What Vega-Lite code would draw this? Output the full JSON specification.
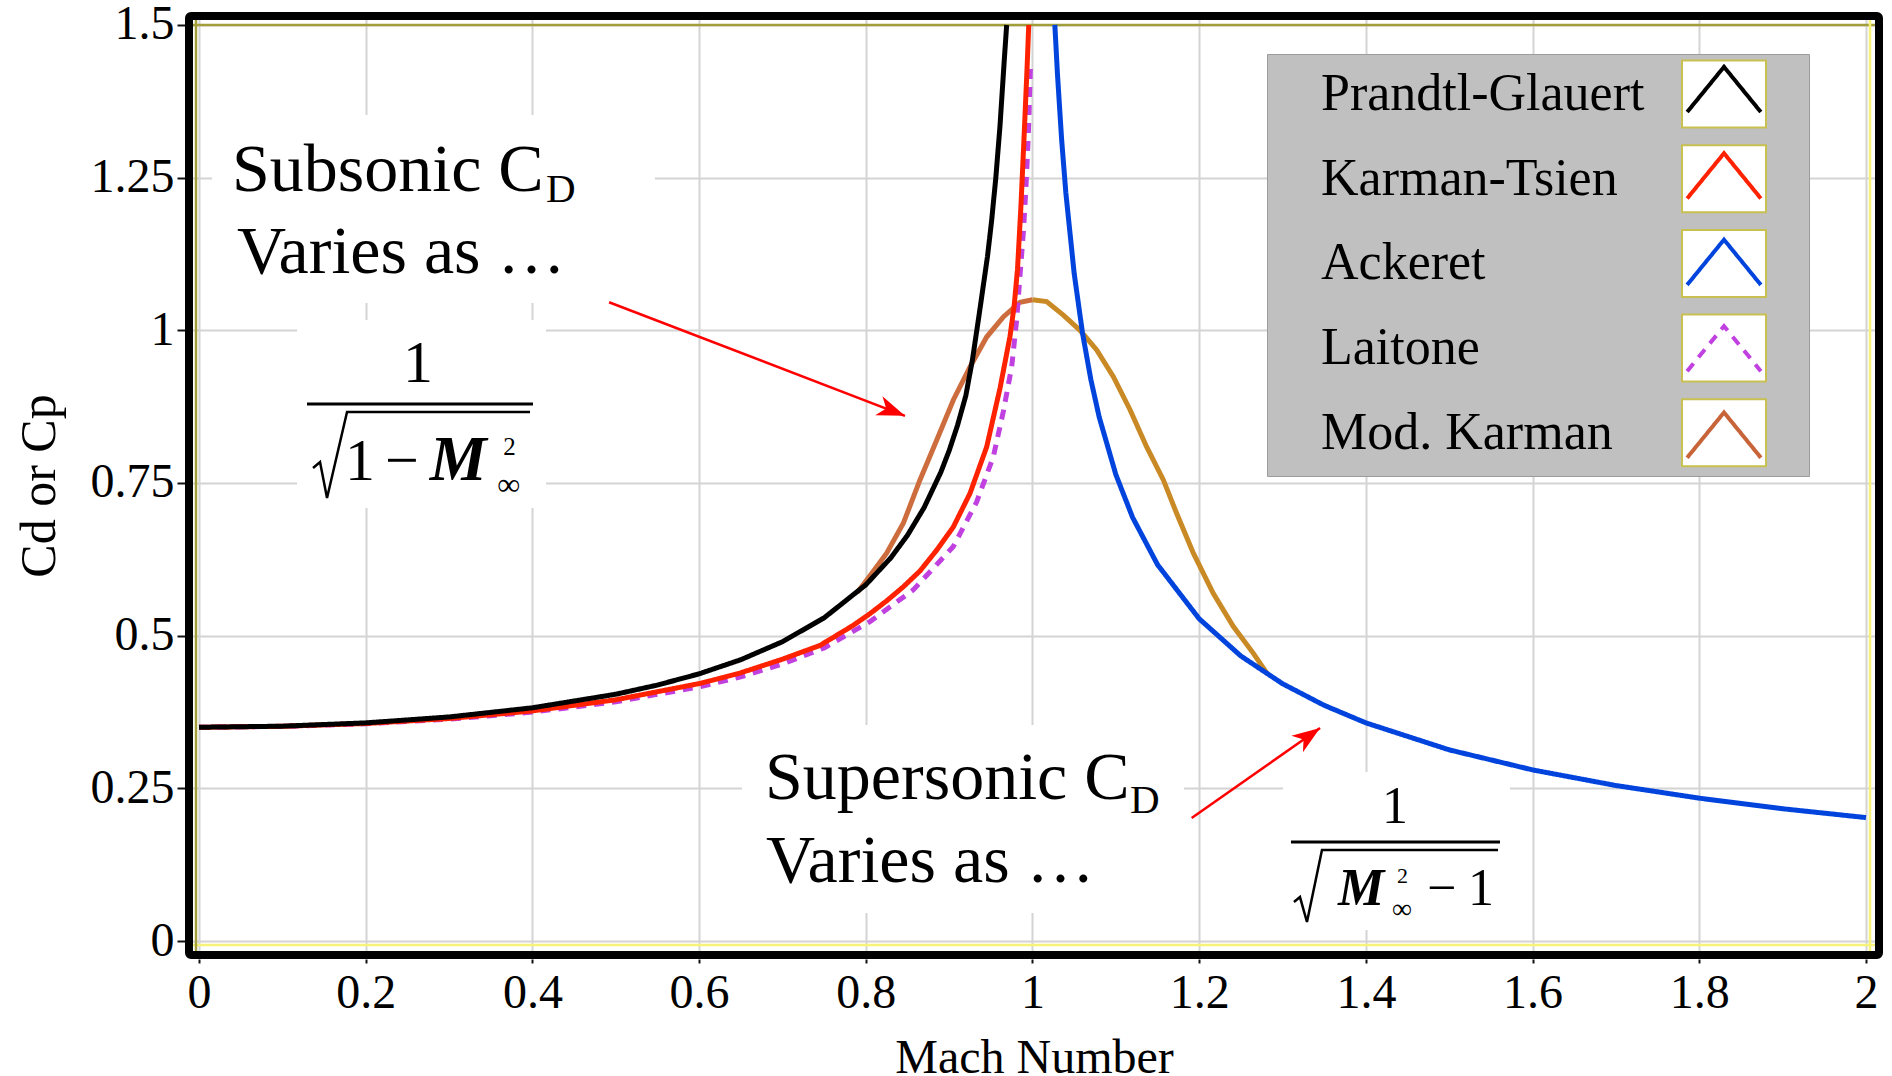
{
  "$schema": "https://vega.github.io/schema/vega-lite/v6.json",
  "width": 1690,
  "height": 939,
  "autosize": {"type": "none"},
  "padding": {"left": 189, "top": 16, "right": 13, "bottom": 121},
  "background": "white",
  "config": {
    "view": {"stroke": null},
    "font": "Liberation Serif",
    "text": {"font": "Liberation Serif"}
  },
  "datasets": {
    "curves": [
      {"s": "Laitone", "M": 0, "v": 0.35}, {"s": "Laitone", "M": 0.1, "v": 0.3514}, {"s": "Laitone", "M": 0.2, "v": 0.3556}, {"s": "Laitone", "M": 0.3, "v": 0.3632}, {"s": "Laitone", "M": 0.4, "v": 0.3748}, {"s": "Laitone", "M": 0.5, "v": 0.3918}, {"s": "Laitone", "M": 0.6, "v": 0.416}, {"s": "Laitone", "M": 0.65, "v": 0.4326}, {"s": "Laitone", "M": 0.7, "v": 0.4535}, {"s": "Laitone", "M": 0.75, "v": 0.48}, {"s": "Laitone", "M": 0.805, "v": 0.523}, {"s": "Laitone", "M": 0.857, "v": 0.575}, {"s": "Laitone", "M": 0.905, "v": 0.646}, {"s": "Laitone", "M": 0.933, "v": 0.719}, {"s": "Laitone", "M": 0.953, "v": 0.793}, {"s": "Laitone", "M": 0.965, "v": 0.867}, {"s": "Laitone", "M": 0.975, "v": 0.94}, {"s": "Laitone", "M": 0.981, "v": 1.017}, {"s": "Laitone", "M": 0.985, "v": 1.09}, {"s": "Laitone", "M": 0.989, "v": 1.16}, {"s": "Laitone", "M": 0.992, "v": 1.23}, {"s": "Laitone", "M": 0.995, "v": 1.32}, {"s": "Laitone", "M": 0.9975, "v": 1.43},
      {"s": "Karman-Tsien", "M": 0, "v": 0.35}, {"s": "Karman-Tsien", "M": 0.1, "v": 0.3516}, {"s": "Karman-Tsien", "M": 0.2, "v": 0.3562}, {"s": "Karman-Tsien", "M": 0.3, "v": 0.3643}, {"s": "Karman-Tsien", "M": 0.4, "v": 0.3768}, {"s": "Karman-Tsien", "M": 0.5, "v": 0.395}, {"s": "Karman-Tsien", "M": 0.6, "v": 0.4215}, {"s": "Karman-Tsien", "M": 0.65, "v": 0.4392}, {"s": "Karman-Tsien", "M": 0.7, "v": 0.4615}, {"s": "Karman-Tsien", "M": 0.745, "v": 0.484}, {"s": "Karman-Tsien", "M": 0.785, "v": 0.517}, {"s": "Karman-Tsien", "M": 0.805, "v": 0.536}, {"s": "Karman-Tsien", "M": 0.825, "v": 0.557}, {"s": "Karman-Tsien", "M": 0.845, "v": 0.58}, {"s": "Karman-Tsien", "M": 0.865, "v": 0.606}, {"s": "Karman-Tsien", "M": 0.885, "v": 0.64}, {"s": "Karman-Tsien", "M": 0.905, "v": 0.678}, {"s": "Karman-Tsien", "M": 0.925, "v": 0.733}, {"s": "Karman-Tsien", "M": 0.945, "v": 0.809}, {"s": "Karman-Tsien", "M": 0.961, "v": 0.905}, {"s": "Karman-Tsien", "M": 0.973, "v": 0.99}, {"s": "Karman-Tsien", "M": 0.978, "v": 1.04}, {"s": "Karman-Tsien", "M": 0.982, "v": 1.1}, {"s": "Karman-Tsien", "M": 0.986, "v": 1.2}, {"s": "Karman-Tsien", "M": 0.99, "v": 1.32}, {"s": "Karman-Tsien", "M": 0.9935, "v": 1.43}, {"s": "Karman-Tsien", "M": 0.9955, "v": 1.5},
      {"s": "Prandtl-Glauert", "M": 0, "v": 0.35}, {"s": "Prandtl-Glauert", "M": 0.1, "v": 0.3518}, {"s": "Prandtl-Glauert", "M": 0.2, "v": 0.3572}, {"s": "Prandtl-Glauert", "M": 0.3, "v": 0.3669}, {"s": "Prandtl-Glauert", "M": 0.4, "v": 0.3819}, {"s": "Prandtl-Glauert", "M": 0.5, "v": 0.4041}, {"s": "Prandtl-Glauert", "M": 0.55, "v": 0.4191}, {"s": "Prandtl-Glauert", "M": 0.6, "v": 0.4375}, {"s": "Prandtl-Glauert", "M": 0.65, "v": 0.4606}, {"s": "Prandtl-Glauert", "M": 0.7, "v": 0.4901}, {"s": "Prandtl-Glauert", "M": 0.75, "v": 0.5292}, {"s": "Prandtl-Glauert", "M": 0.8, "v": 0.5833}, {"s": "Prandtl-Glauert", "M": 0.83, "v": 0.6275}, {"s": "Prandtl-Glauert", "M": 0.85, "v": 0.6644}, {"s": "Prandtl-Glauert", "M": 0.87, "v": 0.7099}, {"s": "Prandtl-Glauert", "M": 0.89, "v": 0.7676}, {"s": "Prandtl-Glauert", "M": 0.9, "v": 0.803}, {"s": "Prandtl-Glauert", "M": 0.91, "v": 0.8442}, {"s": "Prandtl-Glauert", "M": 0.92, "v": 0.893}, {"s": "Prandtl-Glauert", "M": 0.928, "v": 0.9522}, {"s": "Prandtl-Glauert", "M": 0.936, "v": 1.0259}, {"s": "Prandtl-Glauert", "M": 0.946, "v": 1.1209}, {"s": "Prandtl-Glauert", "M": 0.951, "v": 1.18}, {"s": "Prandtl-Glauert", "M": 0.956, "v": 1.25}, {"s": "Prandtl-Glauert", "M": 0.961, "v": 1.3346}, {"s": "Prandtl-Glauert", "M": 0.966, "v": 1.4397}, {"s": "Prandtl-Glauert", "M": 0.969, "v": 1.5},
      {"s": "Ackeret", "M": 1.0268, "v": 1.5}, {"s": "Ackeret", "M": 1.03, "v": 1.4183}, {"s": "Ackeret", "M": 1.035, "v": 1.3115}, {"s": "Ackeret", "M": 1.04, "v": 1.2252}, {"s": "Ackeret", "M": 1.05, "v": 1.0932}, {"s": "Ackeret", "M": 1.06, "v": 0.9955}, {"s": "Ackeret", "M": 1.07, "v": 0.9195}, {"s": "Ackeret", "M": 1.08, "v": 0.858}, {"s": "Ackeret", "M": 1.1, "v": 0.7638}, {"s": "Ackeret", "M": 1.12, "v": 0.6939}, {"s": "Ackeret", "M": 1.15, "v": 0.6163}, {"s": "Ackeret", "M": 1.2, "v": 0.5276}, {"s": "Ackeret", "M": 1.25, "v": 0.4667}, {"s": "Ackeret", "M": 1.3, "v": 0.4213}, {"s": "Ackeret", "M": 1.35, "v": 0.3859}, {"s": "Ackeret", "M": 1.4, "v": 0.3572}, {"s": "Ackeret", "M": 1.5, "v": 0.313}, {"s": "Ackeret", "M": 1.6, "v": 0.2802}, {"s": "Ackeret", "M": 1.7, "v": 0.2546}, {"s": "Ackeret", "M": 1.8, "v": 0.2339}, {"s": "Ackeret", "M": 1.9, "v": 0.2166}, {"s": "Ackeret", "M": 2, "v": 0.2021}
    ],
    "mk1": [
      {"M": 0.79, "v": 0.571}, {"M": 0.805, "v": 0.598}, {"M": 0.825, "v": 0.635}, {"M": 0.845, "v": 0.684}, {"M": 0.865, "v": 0.755}, {"M": 0.885, "v": 0.82}, {"M": 0.905, "v": 0.886}, {"M": 0.925, "v": 0.94}, {"M": 0.945, "v": 0.989}, {"M": 0.965, "v": 1.022}, {"M": 0.985, "v": 1.046}, {"M": 1.0, "v": 1.05}
    ],
    "mk2": [
      {"M": 1.0, "v": 1.05}, {"M": 1.017, "v": 1.047}, {"M": 1.037, "v": 1.025}, {"M": 1.057, "v": 1.0}, {"M": 1.077, "v": 0.968}, {"M": 1.097, "v": 0.924}, {"M": 1.117, "v": 0.87}, {"M": 1.137, "v": 0.809}, {"M": 1.157, "v": 0.755}, {"M": 1.173, "v": 0.7}, {"M": 1.193, "v": 0.635}, {"M": 1.217, "v": 0.569}, {"M": 1.241, "v": 0.515}, {"M": 1.265, "v": 0.471}, {"M": 1.282, "v": 0.437}
    ],
    "boxes": [
      {"x1": 0.0156, "x2": 0.5471, "y1": 1.3526, "y2": 1.0448},
      {"x1": 0.1176, "x2": 0.4163, "y1": 1.0169, "y2": 0.7091},
      {"x1": 0.6515, "x2": 1.1818, "y1": 0.3537, "y2": 0.0459},
      {"x1": 1.3005, "x2": 1.5729, "y1": 0.2767, "y2": 0.018}
    ],
    "rad": [
      {"g": "a", "i": 0, "M": 0.1368, "v": 0.7746}, {"g": "a", "i": 1, "M": 0.1452, "v": 0.7844}, {"g": "a", "i": 2, "M": 0.1536, "v": 0.7254}, {"g": "a", "i": 3, "M": 0.1776, "v": 0.8663}, {"g": "a", "i": 4, "M": 0.3971, "v": 0.8663},
      {"g": "b", "i": 0, "M": 1.3137, "v": 0.0639}, {"g": "b", "i": 1, "M": 1.3209, "v": 0.072}, {"g": "b", "i": 2, "M": 1.3293, "v": 0.0311}, {"g": "b", "i": 3, "M": 1.3473, "v": 0.149}, {"g": "b", "i": 4, "M": 1.5585, "v": 0.149}
    ],
    "bars": [
      {"x1": 0.1296, "x2": 0.4007, "y": 0.8793},
      {"x1": 1.3101, "x2": 1.5609, "y": 0.1621}
    ],
    "arrows": [
      {"x1": 0.492, "y1": 1.046, "x2": 0.847, "y2": 0.86},
      {"x1": 1.191, "y1": 0.2014, "x2": 1.345, "y2": 0.3488}
    ],
    "headSub": [{"x": 0.847, "y": 0.86}],
    "headSup": [{"x": 1.345, "y": 0.3488}],
    "t68": [
      {"t": "Subsonic C", "x": 0.0396, "y": 1.2281},
      {"t": "Varies as …", "x": 0.0456, "y": 1.0939},
      {"t": "Supersonic C", "x": 0.6791, "y": 0.2325},
      {"t": "Varies as …", "x": 0.6803, "y": 0.0966}
    ],
    "t41": [
      {"t": "D", "x": 0.4163, "y": 1.2101},
      {"t": "D", "x": 1.117, "y": 0.2096}
    ],
    "t60": [
      {"t": "1", "x": 0.2447, "y": 0.9153},
      {"t": "1", "x": 0.1752, "y": 0.7549},
      {"t": "−", "x": 0.2232, "y": 0.7549}
    ],
    "mb62": [{"t": "M", "x": 0.2767, "y": 0.7549}],
    "t25": [{"t": "2", "x": 0.3651, "y": 0.7958}],
    "t32": [{"t": "∞", "x": 0.3579, "y": 0.7303}],
    "t52": [
      {"t": "1", "x": 1.4193, "y": 0.1932},
      {"t": "−", "x": 1.4733, "y": 0.059},
      {"t": "1", "x": 1.5225, "y": 0.059}
    ],
    "mb52": [{"t": "M", "x": 1.3665, "y": 0.059}],
    "t22": [{"t": "2", "x": 1.4373, "y": 0.095}],
    "t28": [{"t": "∞", "x": 1.4313, "y": 0.0377}],
    "legendNames": [
      {"name": "Prandtl-Glauert"}, {"name": "Karman-Tsien"}, {"name": "Ackeret"}, {"name": "Laitone"}, {"name": "Mod. Karman"}
    ]
  },
  "resolve": {"axis": {"x": "independent", "y": "independent"}},
  "layer": [
    {
      "data": {"name": "boxes"},
      "mark": {"type": "rect", "fill": "white", "strokeWidth": 0},
      "encoding": {
        "x": {"field": "x1", "type": "quantitative", "scale": {"domain": [-0.012, 2.0156], "nice": false, "zero": false},
              "axis": {"orient": "top", "offset": -8.5, "domain": true, "domainColor": "#a29e3a", "domainWidth": 2.5, "ticks": false, "labels": false, "grid": false, "title": null}},
        "x2": {"field": "x2"},
        "y": {"field": "y1", "type": "quantitative", "scale": {"domain": [-0.0229, 1.5147], "nice": false, "zero": false},
              "axis": {"orient": "left", "offset": -6.5, "domain": true, "domainColor": "#a29e3a", "domainWidth": 2.5, "ticks": false, "labels": false, "grid": false, "title": null}},
        "y2": {"field": "y2"}
      }
    },
    {
      "data": {"name": "mk1"},
      "mark": {"type": "line", "color": "#cd6d3d", "strokeWidth": 5},
      "encoding": {
        "x": {"field": "M", "type": "quantitative", "scale": {"domain": [-0.012, 2.0156], "nice": false, "zero": false}, "axis": null},
        "y": {"field": "v", "type": "quantitative", "scale": {"domain": [-0.0229, 1.5147], "nice": false, "zero": false}, "axis": null}
      }
    },
    {
      "data": {"name": "mk2"},
      "mark": {"type": "line", "color": "#c98a25", "strokeWidth": 5},
      "encoding": {
        "x": {"field": "M", "type": "quantitative", "scale": {"domain": [-0.012, 2.0156], "nice": false, "zero": false}, "axis": null},
        "y": {"field": "v", "type": "quantitative", "scale": {"domain": [-0.0229, 1.5147], "nice": false, "zero": false}, "axis": null}
      }
    },
    {
      "data": {"name": "curves"},
      "mark": {"type": "line", "strokeWidth": 5},
      "encoding": {
        "x": {"field": "M", "type": "quantitative", "scale": {"domain": [-0.012, 2.0156], "nice": false, "zero": false},
              "axis": {"orient": "bottom", "offset": 4, "values": [0, 0.2, 0.4, 0.6, 0.8, 1, 1.2, 1.4, 1.6, 1.8, 2], "format": ".3~g", "domain": false,
                       "ticks": true, "tickSize": 4, "tickWidth": 2, "tickColor": "#111111",
                       "labelFont": "Liberation Serif", "labelFontSize": 48, "labelColor": "#000000", "labelPadding": 6.5, "labelFlush": false, "labelOverlap": false, "labelBound": false,
                       "grid": true, "gridColor": "#d4d4d4", "gridWidth": 2,
                       "title": "Mach Number", "titleFont": "Liberation Serif", "titleFontSize": 48, "titleFontWeight": "normal", "titleColor": "#000000", "titlePadding": 16.5}},
        "y": {"field": "v", "type": "quantitative", "scale": {"domain": [-0.0229, 1.5147], "nice": false, "zero": false},
              "axis": {"orient": "left", "offset": 4, "values": [0, 0.25, 0.5, 0.75, 1, 1.25, 1.5], "format": ".3~g", "domain": false,
                       "ticks": true, "tickSize": 8, "tickWidth": 2, "tickColor": "#111111",
                       "labelFont": "Liberation Serif", "labelFontSize": 48, "labelColor": "#000000", "labelPadding": 3, "labelFlush": false, "labelOverlap": false,
                       "grid": true, "gridColor": "#d4d4d4", "gridWidth": 2,
                       "title": "Cd or Cp", "titleFont": "Liberation Serif", "titleFontSize": 50, "titleFontWeight": "normal", "titleColor": "#000000", "titlePadding": 25.5}},
        "color": {"field": "s", "type": "nominal",
                  "scale": {"domain": ["Prandtl-Glauert", "Karman-Tsien", "Ackeret", "Laitone", "Mod. Karman"], "range": ["#000000", "#ff2200", "#0044dd", "#c040e0", "#c8643a"]},
                  "legend": {"orient": "none", "legendX": 1078, "legendY": 38, "direction": "vertical", "title": null,
                             "symbolType": "M-1.254,-1.03M-1.1,0.51L0,-0.84L1.1,0.51M1.254,0.97",
                             "symbolSize": 4489, "symbolStrokeWidth": 4, "symbolFillColor": "transparent",
                             "symbolOffset": 416, "labelOffset": -438.5, "labelFont": "Liberation Serif", "labelFontSize": 52, "labelOpacity": 0, "labelLimit": 600,
                             "rowPadding": 2.4, "padding": 5.5, "zindex": 2}},
        "strokeDash": {"field": "s", "type": "nominal",
                       "scale": {"domain": ["Prandtl-Glauert", "Karman-Tsien", "Ackeret", "Laitone", "Mod. Karman"], "range": [[1, 0], [1, 0], [1, 0], [10, 8], [1, 0]]},
                       "legend": null}
      }
    },
    {
      "data": {"values": [{}]},
      "mark": {"type": "rect", "filled": false, "color": "black", "strokeWidth": 8, "cornerRadius": 2},
      "encoding": {
        "x": {"value": 0}, "x2": {"value": "width"},
        "y": {"value": 0}, "y2": {"value": "height"}
      }
    },
    {
      "data": {"name": "rad"},
      "mark": {"type": "line", "color": "black", "strokeWidth": 2.5, "strokeJoin": "miter"},
      "encoding": {
        "x": {"field": "M", "type": "quantitative", "scale": {"domain": [-0.012, 2.0156], "nice": false, "zero": false}, "axis": null},
        "y": {"field": "v", "type": "quantitative", "scale": {"domain": [-0.0229, 1.5147], "nice": false, "zero": false}, "axis": null},
        "detail": {"field": "g"},
        "order": {"field": "i", "type": "quantitative"}
      }
    },
    {
      "data": {"name": "bars"},
      "mark": {"type": "rule", "color": "black", "strokeWidth": 3},
      "encoding": {
        "x": {"field": "x1", "type": "quantitative", "scale": {"domain": [-0.012, 2.0156], "nice": false, "zero": false}, "axis": null},
        "x2": {"field": "x2"},
        "y": {"field": "y", "type": "quantitative", "scale": {"domain": [-0.0229, 1.5147], "nice": false, "zero": false}, "axis": null}
      }
    },
    {
      "data": {"name": "arrows"},
      "mark": {"type": "rule", "color": "#ff0000", "strokeWidth": 2.5},
      "encoding": {
        "x": {"field": "x1", "type": "quantitative", "scale": {"domain": [-0.012, 2.0156], "nice": false, "zero": false}, "axis": null},
        "x2": {"field": "x2"},
        "y": {"field": "y1", "type": "quantitative", "scale": {"domain": [-0.0229, 1.5147], "nice": false, "zero": false}, "axis": null},
        "y2": {"field": "y2"}
      }
    },
    {
      "data": {"name": "headSub"},
      "mark": {"type": "point", "shape": "M0,0L0.36,1L0,0.72L-0.36,1Z", "size": 3136, "angle": 111.06, "filled": true, "color": "#ff0000", "opacity": 1, "strokeWidth": 0},
      "encoding": {
        "x": {"field": "x", "type": "quantitative", "scale": {"domain": [-0.012, 2.0156], "nice": false, "zero": false}, "axis": null},
        "y": {"field": "y", "type": "quantitative", "scale": {"domain": [-0.0229, 1.5147], "nice": false, "zero": false}, "axis": null}
      }
    },
    {
      "data": {"name": "headSup"},
      "mark": {"type": "point", "shape": "M0,0L0.36,1L0,0.72L-0.36,1Z", "size": 3136, "angle": 54.9, "filled": true, "color": "#ff0000", "opacity": 1, "strokeWidth": 0},
      "encoding": {
        "x": {"field": "x", "type": "quantitative", "scale": {"domain": [-0.012, 2.0156], "nice": false, "zero": false}, "axis": null},
        "y": {"field": "y", "type": "quantitative", "scale": {"domain": [-0.0229, 1.5147], "nice": false, "zero": false}, "axis": null}
      }
    },
    {
      "data": {"name": "t68"},
      "mark": {"type": "text", "align": "left", "baseline": "alphabetic", "font": "Liberation Serif", "fontSize": 68, "color": "black"},
      "encoding": {
        "x": {"field": "x", "type": "quantitative", "scale": {"domain": [-0.012, 2.0156], "nice": false, "zero": false},
              "axis": {"orient": "bottom", "offset": -10.5, "domain": true, "domainColor": "#f6f27a", "domainWidth": 2.5, "ticks": false, "labels": false, "grid": false, "title": null}},
        "y": {"field": "y", "type": "quantitative", "scale": {"domain": [-0.0229, 1.5147], "nice": false, "zero": false},
              "axis": {"orient": "right", "offset": -9.5, "domain": true, "domainColor": "#f6f27a", "domainWidth": 2.5, "ticks": false, "labels": false, "grid": false, "title": null}},
        "text": {"field": "t"}
      }
    },
    {
      "data": {"name": "t41"},
      "mark": {"type": "text", "align": "left", "baseline": "alphabetic", "font": "Liberation Serif", "fontSize": 41, "color": "black"},
      "encoding": {
        "x": {"field": "x", "type": "quantitative", "scale": {"domain": [-0.012, 2.0156], "nice": false, "zero": false}, "axis": null},
        "y": {"field": "y", "type": "quantitative", "scale": {"domain": [-0.0229, 1.5147], "nice": false, "zero": false}, "axis": null},
        "text": {"field": "t"}
      }
    },
    {
      "data": {"name": "t60"},
      "mark": {"type": "text", "align": "left", "baseline": "alphabetic", "font": "Liberation Serif", "fontSize": 60, "color": "black"},
      "encoding": {
        "x": {"field": "x", "type": "quantitative", "scale": {"domain": [-0.012, 2.0156], "nice": false, "zero": false}, "axis": null},
        "y": {"field": "y", "type": "quantitative", "scale": {"domain": [-0.0229, 1.5147], "nice": false, "zero": false}, "axis": null},
        "text": {"field": "t"}
      }
    },
    {
      "data": {"name": "mb62"},
      "mark": {"type": "text", "align": "left", "baseline": "alphabetic", "font": "Liberation Serif", "fontSize": 64, "fontStyle": "italic", "fontWeight": "bold", "color": "black"},
      "encoding": {
        "x": {"field": "x", "type": "quantitative", "scale": {"domain": [-0.012, 2.0156], "nice": false, "zero": false}, "axis": null},
        "y": {"field": "y", "type": "quantitative", "scale": {"domain": [-0.0229, 1.5147], "nice": false, "zero": false}, "axis": null},
        "text": {"field": "t"}
      }
    },
    {
      "data": {"name": "t25"},
      "mark": {"type": "text", "align": "left", "baseline": "alphabetic", "font": "Liberation Serif", "fontSize": 25, "color": "black"},
      "encoding": {
        "x": {"field": "x", "type": "quantitative", "scale": {"domain": [-0.012, 2.0156], "nice": false, "zero": false}, "axis": null},
        "y": {"field": "y", "type": "quantitative", "scale": {"domain": [-0.0229, 1.5147], "nice": false, "zero": false}, "axis": null},
        "text": {"field": "t"}
      }
    },
    {
      "data": {"name": "t32"},
      "mark": {"type": "text", "align": "left", "baseline": "alphabetic", "font": "Liberation Serif", "fontSize": 32, "color": "black"},
      "encoding": {
        "x": {"field": "x", "type": "quantitative", "scale": {"domain": [-0.012, 2.0156], "nice": false, "zero": false}, "axis": null},
        "y": {"field": "y", "type": "quantitative", "scale": {"domain": [-0.0229, 1.5147], "nice": false, "zero": false}, "axis": null},
        "text": {"field": "t"}
      }
    },
    {
      "data": {"name": "t52"},
      "mark": {"type": "text", "align": "left", "baseline": "alphabetic", "font": "Liberation Serif", "fontSize": 52, "color": "black"},
      "encoding": {
        "x": {"field": "x", "type": "quantitative", "scale": {"domain": [-0.012, 2.0156], "nice": false, "zero": false}, "axis": null},
        "y": {"field": "y", "type": "quantitative", "scale": {"domain": [-0.0229, 1.5147], "nice": false, "zero": false}, "axis": null},
        "text": {"field": "t"}
      }
    },
    {
      "data": {"name": "mb52"},
      "mark": {"type": "text", "align": "left", "baseline": "alphabetic", "font": "Liberation Serif", "fontSize": 52, "fontStyle": "italic", "fontWeight": "bold", "color": "black"},
      "encoding": {
        "x": {"field": "x", "type": "quantitative", "scale": {"domain": [-0.012, 2.0156], "nice": false, "zero": false}, "axis": null},
        "y": {"field": "y", "type": "quantitative", "scale": {"domain": [-0.0229, 1.5147], "nice": false, "zero": false}, "axis": null},
        "text": {"field": "t"}
      }
    },
    {
      "data": {"name": "t22"},
      "mark": {"type": "text", "align": "left", "baseline": "alphabetic", "font": "Liberation Serif", "fontSize": 22, "color": "black"},
      "encoding": {
        "x": {"field": "x", "type": "quantitative", "scale": {"domain": [-0.012, 2.0156], "nice": false, "zero": false}, "axis": null},
        "y": {"field": "y", "type": "quantitative", "scale": {"domain": [-0.0229, 1.5147], "nice": false, "zero": false}, "axis": null},
        "text": {"field": "t"}
      }
    },
    {
      "data": {"name": "t28"},
      "mark": {"type": "text", "align": "left", "baseline": "alphabetic", "font": "Liberation Serif", "fontSize": 28, "color": "black"},
      "encoding": {
        "x": {"field": "x", "type": "quantitative", "scale": {"domain": [-0.012, 2.0156], "nice": false, "zero": false}, "axis": null},
        "y": {"field": "y", "type": "quantitative", "scale": {"domain": [-0.0229, 1.5147], "nice": false, "zero": false}, "axis": null},
        "text": {"field": "t"}
      }
    },
    {
      "data": {"name": "legendNames"},
      "mark": {"type": "point", "filled": true, "fill": "white", "stroke": "#c8c050", "strokeWidth": 2, "opacity": 0},
      "encoding": {
        "shape": {"field": "name", "type": "nominal", "sort": null,
                  "scale": {"range": ["M-1.254,-1H1.254V1H-1.254ZM2.25,0"]},
                  "legend": {"orient": "none", "legendX": 1078, "legendY": 38, "direction": "vertical", "title": null,
                             "symbolSize": 4489, "symbolStrokeWidth": 2, "symbolOpacity": 1,
                             "symbolOffset": 417, "labelOffset": -437.5, "labelFont": "Liberation Serif", "labelFontSize": 52, "labelColor": "#000000", "labelLimit": 600,
                             "rowPadding": 9.7, "padding": 5.5, "zindex": 1,
                             "fillColor": "#c0c0c0", "strokeColor": "#9c9c9c"}}
      }
    }
  ]
}
